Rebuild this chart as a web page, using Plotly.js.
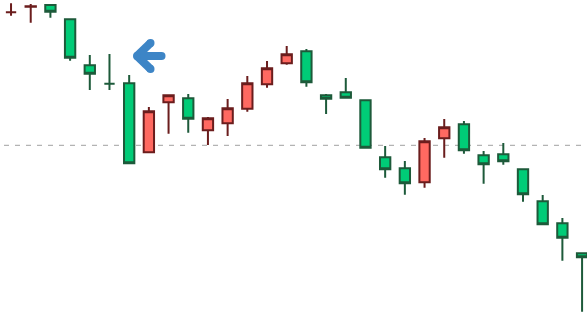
<!DOCTYPE html>
<html>
<head>
<meta charset="utf-8">
<script src="https://cdn.plot.ly/plotly-3.0.1.min.js"></script>
<style>
  html, body { margin: 0; padding: 0; background: #ffffff; }
  #chart { width: 587px; height: 316px; }
</style>
</head>
<body>
<div id="chart"></div>
<script>
// Session bars (30 periods)
const sessions = [
  "09:30", "09:35", "09:40", "09:45", "09:50", "09:55",
  "10:00", "10:05", "10:10", "10:15", "10:20", "10:25",
  "10:30", "10:35", "10:40", "10:45", "10:50", "10:55",
  "11:00", "11:05", "11:10", "11:15", "11:20", "11:25",
  "11:30", "11:35", "11:40", "11:45", "11:50", "11:55"
];

const openPrices = [
  113.30, 113.85, 114.03, 112.60, 108.00, 106.16,
  106.20,  99.30, 104.30, 104.70, 101.50, 102.20,
  103.66, 106.10, 108.20, 109.40, 105.00, 105.30,
  104.50,  98.80,  97.70,  96.30, 100.70, 102.10,
   99.00,  99.10,  97.60,  94.40,  92.20,  89.20
];
const highPrices = [
  114.20, 114.13, 114.03, 112.70, 109.03, 109.13,
  107.03, 103.83, 105.00, 105.13, 102.83, 104.63,
  106.93, 108.43, 109.93, 109.63, 105.13, 106.73,
  104.50,  99.93,  98.43, 100.73, 102.63, 102.43,
   99.43, 100.23,  97.60,  95.03,  92.73,  89.20
];
const lowPrices = [
  112.96, 112.26, 112.76, 108.46, 105.53, 105.53,
   98.20,  99.30, 101.16, 101.26, 100.03, 100.93,
  103.36, 105.76, 108.06, 105.86, 103.13, 104.66,
   99.76,  96.76,  95.06,  95.76,  98.76,  99.16,
   96.16,  98.06,  94.36,  92.10,  88.46,  83.36
];
const closePrices = [
  113.30, 113.90, 113.36, 108.76, 107.16, 106.16,
   98.20, 103.40, 105.00, 102.66, 102.70, 103.70,
  106.20, 107.70, 109.10, 106.30, 104.66, 104.76,
   99.76,  97.60,  96.20, 100.40, 101.80,  99.50,
   98.10,  98.40,  95.10,  92.10,  90.76,  88.80
];

// Reference level drawn as a dashed horizontal line
const refLevel = 100.00;

// Visible windows of the two axes
const xWindow = [-0.56, 29.25];
const yWindow = [82.93, 114.53];

const W = 587, H = 316;
const px = v => v / W;          // pixel -> paper x
const py = v => 1 - v / H;      // pixel -> paper y

// Left-pointing marker arrow, built from thick strokes with round ends
const arrowColor = "#3d85c6";
const arrowWidth = 8;
const arrowTip = [137, 56];
const arrowEnds = [[150.5, 43], [150.5, 69], [161.5, 56]];
const capR = arrowWidth / 2;

const shapes = [
  {
    type: "line", xref: "paper", yref: "y",
    x0: px(4), x1: 1, y0: refLevel, y1: refLevel,
    line: { color: "#a0a0a0", width: 1, dash: "5px,6px" },
    layer: "below"
  }
];
arrowEnds.forEach(function (e) {
  shapes.push({
    type: "line", xref: "paper", yref: "paper",
    x0: px(arrowTip[0]), y0: py(arrowTip[1]),
    x1: px(e[0]), y1: py(e[1]),
    line: { color: arrowColor, width: arrowWidth }
  });
});
[arrowTip].concat(arrowEnds).forEach(function (p) {
  shapes.push({
    type: "circle", xref: "paper", yref: "paper",
    x0: px(p[0] - capR), x1: px(p[0] + capR),
    y0: py(p[1] - capR), y1: py(p[1] + capR),
    fillcolor: arrowColor, line: { width: 0 }
  });
});

const trace = {
  type: "candlestick",
  x: sessions.map((s, i) => i),
  open: openPrices,
  high: highPrices,
  low: lowPrices,
  close: closePrices,
  text: sessions,
  increasing: { line: { color: "#6b1d1d", width: 2 }, fillcolor: "#ff6961" },
  decreasing: { line: { color: "#1d5a3a", width: 2 }, fillcolor: "#00cc77" },
  hoverinfo: "skip"
};

const layout = {
  width: W,
  height: H,
  margin: { l: 0, r: 0, t: 0, b: 0 },
  paper_bgcolor: "#ffffff",
  plot_bgcolor: "#ffffff",
  showlegend: false,
  hovermode: false,
  boxgap: 0.25,
  xaxis: {
    range: xWindow,
    visible: false,
    rangeslider: { visible: false },
    fixedrange: true
  },
  yaxis: {
    range: yWindow,
    visible: false,
    fixedrange: true
  },
  shapes: shapes
};

Plotly.newPlot("chart", [trace], layout, { staticPlot: true, displayModeBar: false });
</script>
</body>
</html>
